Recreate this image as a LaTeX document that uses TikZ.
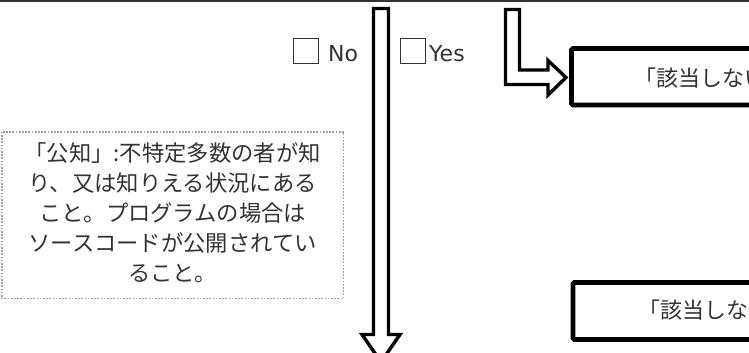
\documentclass[tikz,border=0pt]{standalone}
\usepackage{fontspec}
\setmainfont{DejaVu Sans}
\newfontfamily\jpfont{Noto Sans CJK JP}
\definecolor{txt}{HTML}{333333}
\definecolor{dotgray}{HTML}{A0A0A0}
\begin{document}
\begin{tikzpicture}[x=1pt,y=-1pt,
  blockarrow/.style={draw=black,line width=3.4pt,fill=white,line join=miter},
  resultbox/.style={draw=black,line width=4.8pt,rounded corners=1.5pt,fill=white},
  notebox/.style={draw=dotgray,line width=1.7pt,dash pattern=on 1.7pt off 1.5pt},
  checkbox/.style={draw=txt,line width=0.9pt,fill=white,minimum width=25pt,minimum height=25pt,inner sep=0pt},
  lbl/.style={text=txt,font=\fontsize{22}{26}\selectfont,inner sep=0pt},
  jp/.style={text=txt,font=\jpfont\fontsize{22}{26}\selectfont,inner sep=0pt}]
\useasboundingbox (0,0) rectangle (749,353);
% top rule
\coordinate (tl) at (0,1);
\coordinate (tr) at (749,1);
\draw[line width=1.4pt,color=txt] (tl) -- (tr);
% vertical block arrow
\draw[blockarrow] (373.5,8.5) -- (388.5,8.5) -- (388.5,334.5) -- (400,334.5)
  -- (381,362) -- (362,334.5) -- (373.5,334.5) -- cycle;
% L-shaped block arrow
\draw[blockarrow] (505.5,9.5) -- (519.5,9.5) -- (519.5,70) -- (548,70) -- (548,60.5)
  -- (566,77.5) -- (548,95) -- (548,84.5) -- (505.5,84.5) -- cycle;
% result boxes
\draw[resultbox] (571.5,48.5) rectangle (760,105);
\draw[resultbox] (573,282.5) rectangle (760,339.5);
\node[jp,anchor=west] (r1) at (634,78) {「該当しない」};
\node[jp,anchor=west] (r2) at (638,310) {「該当しない」};
% checkboxes and labels
\node[checkbox,anchor=north west] (cbno) at (293,38.5) {};
\node[lbl,anchor=base west] (no) at (328,62) {No};
\node[checkbox,anchor=north west] (cbyes) at (400,38.5) {};
\node[lbl,anchor=base west] (yes) at (429,62) {Yes};
% note
\draw[notebox] (1.7,131.7) rectangle (343.5,298.5);
\node[text=txt,font=\jpfont\fontsize{22.3}{30}\selectfont,align=center,inner sep=0pt] (note) at (172.6,213)
  {「公知」:不特定多数の者が知\\り、又は知りえる状況にある\\こと。プログラムの場合は\\ソースコードが公開されてい\\ること。};
\end{tikzpicture}
\end{document}
